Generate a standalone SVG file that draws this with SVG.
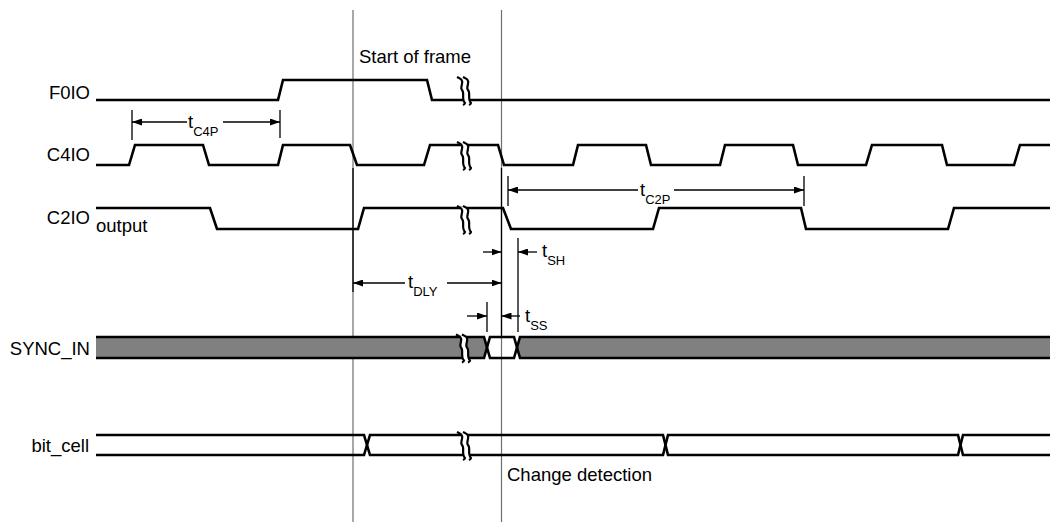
<svg xmlns="http://www.w3.org/2000/svg" width="1050" height="522" viewBox="0 0 1050 522">
<defs>
<style>
.sig{fill:none;stroke:#000;stroke-width:2.6;stroke-linejoin:miter}
.guide{stroke:#6e6e6e;stroke-width:1.2;fill:none}
.tick{stroke:#000;stroke-width:1.3;fill:none}
.dim{stroke:#000;stroke-width:1.3;fill:none}
.lbl{font-family:"Liberation Sans",Arial,Helvetica,sans-serif;font-size:18.5px;fill:#000}
.sub{font-size:13px}
.bus{fill:#808080;stroke:none}
.brk-fill{fill:#fff;stroke:none}
.brk-line{fill:none;stroke:#000;stroke-width:2.2}
</style>
<marker id="ah" viewBox="0 0 10 7" refX="10" refY="3.5" markerWidth="10" markerHeight="7" markerUnits="userSpaceOnUse" orient="auto-start-reverse">
<path d="M0,0 L10,3.5 L0,7 Z" fill="#000"/>
</marker>
<g id="brk">
<path class="brk-fill" d="M-6,-12 C1,-9 -6,-3 -3,0 C0,3 -4,9 0,13 L6,13 C2,9 6,3 3,0 C0,-3 7,-9 0,-12 Z"/>
<path class="brk-line" d="M-8,-13 C-7,-12.5 -6,-12 -6,-12 C1,-9 -6,-3 -3,0 C0,3 -4,9 0,13 C0,14 -1,14.5 -2,15"/>
<path class="brk-line" d="M-2,-13 C-1,-12.5 0,-12 0,-12 C7,-9 0,-3 3,0 C6,3 2,9 6,13 C6,14 5,14.5 4,15"/>
</g>
</defs>

<g id="guides">
<line class="guide" x1="353" y1="10" x2="353" y2="522"/>
<line class="guide" x1="501.5" y1="10" x2="501.5" y2="522"/>
</g>

<g id="F0IO">
<text class="lbl" x="90" y="99" text-anchor="end">F0IO</text>
<path class="sig" d="M96,100 H278 L283,80 H427 L432,100 H1050"/>
<use href="#brk" x="465" y="90"/>
</g>

<g id="C4IO">
<text class="lbl" x="90" y="161" text-anchor="end">C4IO</text>
<path class="sig" d="M96,165 H129 L135,145 H203 L209,165 H278 L283,145 H350 L357,165 H424 L430,145 H498 L504,165 H573 L578,145 H646 L651,165 H720 L725,145 H793 L798,165 H866 L872,145 H942 L947,165 H1014 L1020,145 H1050"/>
<use href="#brk" x="465" y="155"/>
</g>

<g id="C2IO">
<text class="lbl" x="90" y="224" text-anchor="end">C2IO</text>
<text class="lbl" x="96" y="232">output</text>
<path class="sig" d="M96,208 H210 L217,229 H358 L364,208 H503 L511,229 H653 L659,208 H801 L806,229 H948 L954,208 H1050"/>
<use href="#brk" x="465" y="219"/>
</g>

<g id="SYNC_IN">
<text class="lbl" x="90" y="355" text-anchor="end">SYNC_IN</text>
<path class="bus" d="M96,337 H484 L487,347.5 L484,358 H96 Z"/>
<path class="bus" d="M1050,337 H520 L517,347.5 L520,358 H1050 Z"/>
<path class="sig" d="M96,337 H484 L490,358 H514 L520,337 H1050"/>
<path class="sig" d="M96,358 H484 L490,337 H514 L520,358 H1050"/>
<use href="#brk" x="464" y="347.5"/>
</g>

<g id="bit_cell">
<text class="lbl" x="89" y="452" text-anchor="end">bit_cell</text>
<path class="sig" d="M96,435 H364 L370,455 H663 L668,435 H958 L963,455 H1050"/>
<path class="sig" d="M96,455 H364 L370,435 H663 L668,455 H958 L963,435 H1050"/>
<use href="#brk" x="465" y="445"/>
</g>

<g id="annotations">
<text class="lbl" x="359" y="63">Start of frame</text>
<text class="lbl" x="507" y="481">Change detection</text>
</g>

<g id="connectors">
<line class="tick" x1="353" y1="168" x2="353" y2="292"/>
<line class="tick" x1="501.5" y1="168" x2="501.5" y2="337"/>
<line class="tick" x1="132" y1="110" x2="132" y2="140"/>
<line class="tick" x1="280" y1="110" x2="280" y2="138"/>
<line class="tick" x1="508" y1="176" x2="508" y2="206"/>
<line class="tick" x1="804" y1="176" x2="804" y2="206"/>
<line class="tick" x1="518" y1="238" x2="518" y2="332"/>
<line class="tick" x1="487" y1="302" x2="487" y2="332"/>

<line class="dim" x1="132" y1="122" x2="187" y2="122" marker-start="url(#ah)"/>
<line class="dim" x1="223" y1="122" x2="280" y2="122" marker-end="url(#ah)"/>
<text class="lbl" x="188" y="128">t<tspan class="sub" dy="8">C4P</tspan></text>

<line class="dim" x1="508" y1="190" x2="638" y2="190" marker-start="url(#ah)"/>
<line class="dim" x1="674" y1="190" x2="804" y2="190" marker-end="url(#ah)"/>
<text class="lbl" x="640" y="196">t<tspan class="sub" dy="8">C2P</tspan></text>

<line class="dim" x1="353" y1="283" x2="405" y2="283" marker-start="url(#ah)"/>
<line class="dim" x1="447" y1="283" x2="501.5" y2="283" marker-end="url(#ah)"/>
<text class="lbl" x="408" y="288">t<tspan class="sub" dy="8">DLY</tspan></text>

<line class="dim" x1="483" y1="252" x2="501.5" y2="252" marker-end="url(#ah)"/>
<line class="dim" x1="537" y1="252" x2="518" y2="252" marker-end="url(#ah)"/>
<text class="lbl" x="542" y="257">t<tspan class="sub" dy="8">SH</tspan></text>

<line class="dim" x1="467" y1="316" x2="487" y2="316" marker-end="url(#ah)"/>
<line class="dim" x1="520" y1="316" x2="501.5" y2="316" marker-end="url(#ah)"/>
<text class="lbl" x="525" y="322">t<tspan class="sub" dy="8">SS</tspan></text>
</g>
</svg>
